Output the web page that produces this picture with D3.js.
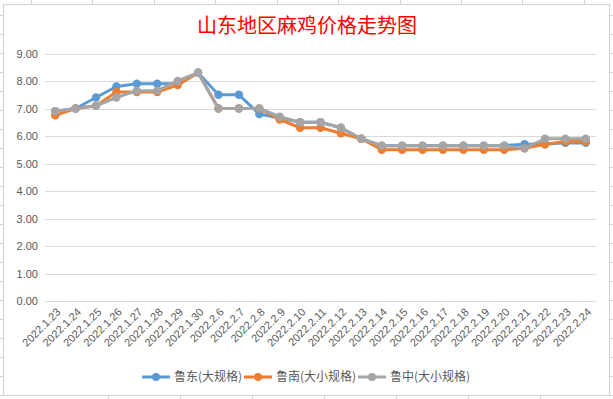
<!DOCTYPE html>
<html><head><meta charset="utf-8">
<script src="https://cdn.jsdelivr.net/npm/d3@7"></script>
<style>html,body{margin:0;padding:0;background:#fff;overflow:hidden}</style>
</head><body>
<svg id="c" width="613" height="399"></svg>
<script>
const categories = ['2022.1.23','2022.1.24','2022.1.25','2022.1.26','2022.1.27','2022.1.28','2022.1.29','2022.1.30','2022.2.6','2022.2.7','2022.2.8','2022.2.9','2022.2.10','2022.2.11','2022.2.12','2022.2.13','2022.2.14','2022.2.15','2022.2.16','2022.2.17','2022.2.18','2022.2.19','2022.2.20','2022.2.21','2022.2.22','2022.2.23','2022.2.24'];
const seriesNames = ['鲁东(大规格)','鲁南(大小规格)','鲁中(大小规格)'];
const ludong  = [6.9,7.0,7.4,7.8,7.9,7.9,7.9,8.3,7.5,7.5,6.8,6.65,6.5,6.5,6.3,5.9,5.65,5.65,5.65,5.65,5.65,5.65,5.65,5.7,5.7,5.75,5.75];
const lunan   = [6.75,7.0,7.1,7.6,7.6,7.6,7.85,8.3,7.0,7.0,7.0,6.6,6.3,6.3,6.1,5.9,5.5,5.5,5.5,5.5,5.5,5.5,5.5,5.55,5.7,5.8,5.8];
const luzhong = [6.9,7.0,7.1,7.4,7.65,7.65,8.0,8.3,7.0,7.0,7.0,6.7,6.5,6.5,6.3,5.9,5.65,5.65,5.65,5.65,5.65,5.65,5.65,5.55,5.9,5.9,5.9];
const yTicks = [0,1,2,3,4,5,6,7,8,9];
const title = '山东地区麻鸡价格走势图';

const colors = ['#5b9bd5','#ed7d31','#a5a5a5'];
const svg = d3.select('#c');

// spreadsheet cell lines outside chart frame
const cellG = svg.append('g').attr('stroke','#d4d4d4').attr('stroke-width',1);
[31,92,154,215,277,338,400,461,522,584].forEach(x=>cellG.append('line').attr('x1',x+0.5).attr('x2',x+0.5).attr('y1',0).attr('y2',4));
[108,180,252,324,396,468,540].forEach(x=>cellG.append('line').attr('x1',x+0.5).attr('x2',x+0.5).attr('y1',396).attr('y2',399));
for(let y=15;y<396;y+=19){
  cellG.append('line').attr('x1',0).attr('x2',3).attr('y1',y+0.5).attr('y2',y+0.5);
  cellG.append('line').attr('x1',610).attr('x2',613).attr('y1',y+0.5).attr('y2',y+0.5);
}
// chart frame
svg.append('rect').attr('x',3.5).attr('y',4.5).attr('width',606).attr('height',391)
  .attr('fill','#fff').attr('stroke','#d0d0d0');

const x = d3.scalePoint().domain(categories).range([45,596]).padding(0.5);
const y = d3.scaleLinear().domain([0,9]).range([301,53.5]);

// gridlines
svg.append('g').selectAll('line').data(yTicks).join('line')
  .attr('x1',45).attr('x2',596)
  .attr('y1',d=>Math.round(y(d))+0.5).attr('y2',d=>Math.round(y(d))+0.5)
  .attr('stroke','#d9d9d9').attr('stroke-width',1);

// y axis labels
const yAxis = d3.axisLeft(y).tickValues(yTicks).tickFormat(d3.format('.2f')).tickSize(0).tickPadding(0);
const ya = svg.append('g').attr('transform','translate(38,0)').call(yAxis);
ya.select('.domain').remove();
ya.selectAll('text').attr('fill','#595959').style('font-family','Liberation Sans, Arial, sans-serif').style('font-size','11px');

// x axis labels
const xAxis = d3.axisBottom(x).tickSize(0).tickPadding(0);
const xa = svg.append('g').attr('transform','translate(0,306)').call(xAxis);
xa.select('.domain').remove();
xa.selectAll('text')
  .attr('fill','#595959')
  .style('font-family','Liberation Sans, Arial, sans-serif').style('font-size','11px')
  .attr('text-anchor','end').attr('dy','0.35em').attr('y',0)
  .attr('transform','translate(3,4) rotate(-45)');

// lines
const data = [ludong, lunan, luzhong];
const line = d3.line().x((d,i)=>x(categories[i])).y(d=>y(d));
data.forEach((s,k)=>{
  const g = svg.append('g');
  g.append('path').datum(s).attr('d',line).attr('fill','none')
    .attr('stroke',colors[k]).attr('stroke-width',3).attr('stroke-linejoin','round').attr('stroke-linecap','round');
  g.selectAll('circle').data(s).join('circle')
    .attr('cx',(d,i)=>x(categories[i])).attr('cy',d=>y(d)).attr('r',4.2).attr('fill',colors[k]);
});

// title
svg.append('text').attr('x',307).attr('y',33).attr('text-anchor','middle')
  .attr('fill','#ff0000').style('font-family','Noto Sans CJK SC, sans-serif').style('font-size','20px')
  .text(title);

// legend
const legend = svg.append('g');
const lx = [142,244,358];
seriesNames.forEach((n,k)=>{
  const g = legend.append('g').attr('transform',`translate(${lx[k]},377)`);
  g.append('line').attr('x1',0).attr('x2',28).attr('y1',0).attr('y2',0).attr('stroke',colors[k]).attr('stroke-width',3);
  g.append('circle').attr('cx',14).attr('cy',0).attr('r',4).attr('fill',colors[k]);
  g.append('text').attr('x',32).attr('y',0).attr('dy','0.36em').attr('fill','#595959')
    .style('font-family','Noto Sans CJK SC, sans-serif').style('font-size','12px').text(n);
});
</script>
</body></html>
